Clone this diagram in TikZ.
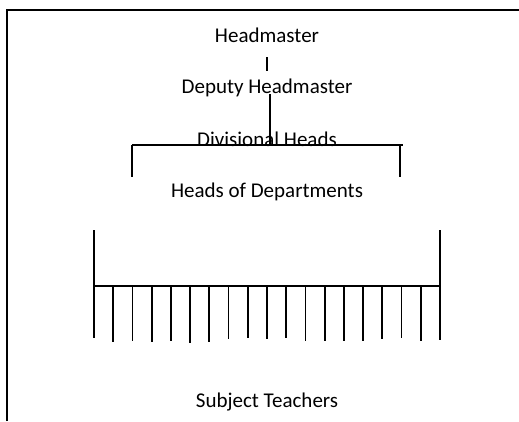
\documentclass[tikz,border=0pt]{standalone}
\usepackage{fontspec}
\setmainfont{Carlito}
\begin{document}
\begin{tikzpicture}[x=1pt,y=-1pt,
  lbl/.style={inner sep=0pt,font=\fontsize{21}{25}\selectfont},
  ln/.style={line width=1.8pt,black}]
\useasboundingbox (0,0) rectangle (519,421);
% frame (top and left only)
\coordinate (ftl) at (7,10);
\coordinate (ftr) at (519,10);
\coordinate (fbl) at (7,421);
\draw[ln] (fbl) -- (ftl) -- (ftr);
% labels
\node[lbl] (hm)  at (267,35)  {Headmaster};
\node[lbl] (dhm) at (267,88)  {Deputy Headmaster};
\node[lbl] (div) at (267,139) {Divisional Heads};
\node[lbl] (hod) at (267,192) {Heads of Departments};
\node[lbl] (st)  at (267,402) {Subject Teachers};
% headmaster to deputy
\coordinate (a1) at (267,57);
\coordinate (a2) at (267,71);
\draw[ln] (a1) -- (a2);
% deputy to divisional bar
\coordinate (b1) at (270,94);
\coordinate (b2) at (270,145);
\draw[ln] (b1) -- (b2);
\coordinate (bl) at (132,145);
\coordinate (br) at (403,145);
\draw[ln] (bl) -- (br);
\coordinate (bl2) at (132,177);
\coordinate (br2) at (400,177);
\coordinate (br1) at (400,146);
\draw[ln] (bl) -- (bl2);
\draw[ln] (br1) -- (br2);
% subject teachers comb
\coordinate (cl1) at (94,230);
\coordinate (cl2) at (94,286);
\coordinate (cr1) at (440,230);
\coordinate (cr2) at (440,286);
\draw[ln] (cl1) -- (cl2) -- (cr2) -- (cr1);
\foreach \i/\b in {0/338.3,1/342.3,2/341,3/342.3,4/341,5/343,6/342.3,7/339,8/338.3,9/339.3,10/338.3,11/341,12/340.7,13/341,14/340.7,15/339,16/338.3,17/341,18/340}{
  \coordinate (t\i) at ({94+\i*19.22},286);
  \coordinate (u\i) at ({94+\i*19.22},\b);
  \draw[ln] (t\i) -- (u\i);
}
\end{tikzpicture}
\end{document}
